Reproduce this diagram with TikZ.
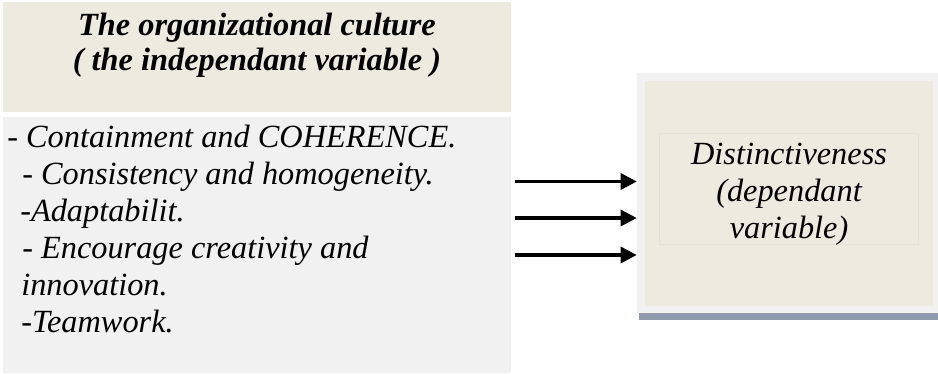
\documentclass[tikz,border=0pt]{standalone}
\usepackage{fontspec}
\setmainfont{Liberation Serif}
\usepackage{xcolor}
\usepackage{tikz}
\usetikzlibrary{calc}
\usetikzlibrary{arrows.meta}
\definecolor{beige}{RGB}{237,234,224}
\definecolor{paleg}{RGB}{241,241,241}
\definecolor{slate}{RGB}{143,155,173}
\definecolor{faint}{RGB}{229,226,215}
\tikzset{>={Triangle[length=4mm,width=4mm]}}

\begin{document}
\begin{tikzpicture}[font=\itshape\fontsize{23}{26.3}\selectfont]
	\useasboundingbox (0,0) rectangle (23.45,9.325);
	% left side
	\node[fill=beige,minimum width=12.7cm,minimum height=2.75cm,inner sep=0] (culture box) at (6.425,7.9) {};
	\node[font=\bfseries\itshape\fontsize{23}{24.9}\selectfont,align=center,inner sep=0] (culture) at (6.425,8.19) {The organizational culture\\( the independant variable )};
	\node[fill=paleg,minimum width=12.7cm,minimum height=6.4cm,inner sep=0] (list box) at (6.425,3.2) {};
	\node[anchor=north west,align=left,inner sep=0] (items) at (0.175,6.2) {- Containment and COHERENCE.\\\hspace*{0.375cm}- Consistency and homogeneity.\\\hspace*{0.325cm}-Adaptabilit.\\\hspace*{0.375cm}- Encourage creativity and\\\hspace*{0.35cm}innovation.\\\hspace*{0.35cm}-Teamwork.};
	% right side
	\node[fill=paleg,minimum width=7.525cm,minimum height=6cm,inner sep=0] (frame) at (19.6875,4.5) {};
	\fill[slate] ($(frame.south west)+(0.05,0)$) rectangle ($(frame.south east)+(0,-0.175)$);
	\node[fill=beige,minimum width=7.2cm,minimum height=5.625cm,inner sep=0] (dist box) at (19.725,4.4875) {};
	\node[draw=faint,minimum width=6.475cm,minimum height=2.775cm,inner sep=0] (dist frame) at (19.7125,4.6125) {};
	\node[align=center,inner sep=0] (dist) at (19.725,4.47) {Distinctiveness\\(dependant\\variable)};
	% arrows
	\coordinate (from1) at (12.875,4.7875);
	\coordinate (from2) at (12.875,3.875);
	\coordinate (from3) at (12.875,2.95);
	\draw[->,line width=2.4pt] (from1) -- (from1 -| frame.west);
	\draw[->,line width=2.4pt] (from2) -- (from2 -| frame.west);
	\draw[->,line width=2.4pt] (from3) -- (from3 -| frame.west);
\end{tikzpicture}
\end{document}
